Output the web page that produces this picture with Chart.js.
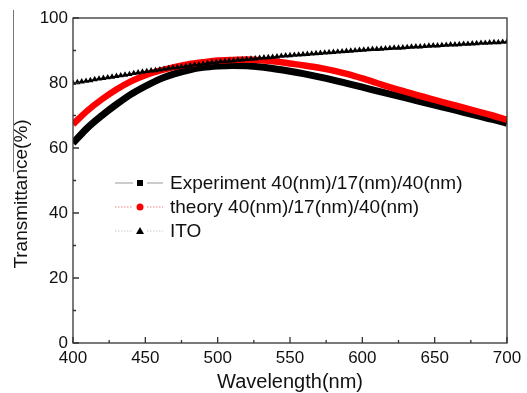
<!DOCTYPE html>
<html>
<head>
<meta charset="utf-8">
<script src="https://cdn.jsdelivr.net/npm/chart.js@4.4.0/dist/chart.umd.min.js"></script>
<style>
  html, body { margin: 0; padding: 0; background: #fff; }
  #wrap { width: 527px; height: 393px; }
</style>
</head>
<body>
<div id="wrap"><canvas id="grafico"></canvas></div>
<script>
// wavelength grid of the measured / computed curves (nm)
var lambda10 = [400, 410, 420, 430, 440, 450, 460, 470, 480, 490, 500, 510, 520, 530, 540, 550,
                560, 570, 580, 590, 600, 610, 620, 630, 640, 650, 660, 670, 680, 690, 700];

var experiment = [61.5, 66.2, 70.0, 73.4, 76.5, 79.0, 81.2, 82.8, 84.0, 84.8, 85.2, 85.4, 85.3, 84.9, 84.3, 83.6,
                  82.8, 81.9, 80.9, 79.8, 78.7, 77.6, 76.5, 75.4, 74.3, 73.2, 72.1, 71.0, 69.9, 68.8, 67.6];

var theory = [67.3, 71.5, 75.0, 78.0, 80.5, 82.4, 83.8, 84.9, 85.8, 86.4, 86.9, 87.1, 87.2, 87.0, 86.6, 86.0,
              85.4, 84.7, 83.8, 82.7, 81.4, 80.0, 78.6, 77.3, 76.0, 74.8, 73.6, 72.4, 71.2, 70.0, 68.7];

// ITO is sampled every 3 nm, starting at 400 nm
var itoStart = 400, itoStep = 3;
var ito = [80.0, 80.2, 80.4, 80.6, 80.8, 81.1, 81.3, 81.5, 81.7, 81.9,
           82.1, 82.3, 82.5, 82.7, 83.0, 83.2, 83.4, 83.6, 83.8, 83.9,
           84.1, 84.3, 84.5, 84.7, 84.8, 85.0, 85.2, 85.4, 85.6, 85.7,
           85.9, 86.1, 86.3, 86.4, 86.6, 86.7, 86.8, 86.9, 87.1, 87.2,
           87.3, 87.4, 87.5, 87.7, 87.8, 87.9, 88.0, 88.1, 88.3, 88.4,
           88.5, 88.6, 88.7, 88.8, 88.9, 89.0, 89.1, 89.2, 89.3, 89.4,
           89.5, 89.6, 89.7, 89.8, 89.9, 90.0, 90.1, 90.2, 90.3, 90.4,
           90.4, 90.5, 90.6, 90.7, 90.8, 90.8, 90.9, 91.0, 91.1, 91.2,
           91.2, 91.3, 91.4, 91.5, 91.5, 91.6, 91.7, 91.8, 91.8, 91.9,
           92.0, 92.0, 92.1, 92.2, 92.3, 92.3, 92.4, 92.5, 92.5, 92.6, 92.7];

var xTicks = [400, 450, 500, 550, 600, 650, 700];
var xMinor = [425, 475, 525, 575, 625, 675];
var yTicks = [0, 20, 40, 60, 80, 100];
var yMinor = [10, 30, 50, 70, 90];

var labelSerie = ['Experiment 40(nm)/17(nm)/40(nm)', 'theory 40(nm)/17(nm)/40(nm)', 'ITO'];
var titoloX = 'Wavelength(nm)';
var titoloY = 'Transmittance(%)';

function punti(xs, ys) {
    var out = [];
    for (var i = 0; i < ys.length; i++) out.push({x: xs[i], y: ys[i]});
    return out;
}
var itoX = [];
for (var k = 0; k < ito.length; k++) itoX.push(itoStart + k * itoStep);

var font = 'Arial, "Liberation Sans", sans-serif';

var cornice = {
    id: 'cornice',
    afterDraw: function(chart) {
        var ctx = chart.ctx, a = chart.chartArea;
        var sx = chart.scales.x, sy = chart.scales.y;
        ctx.save();
        // stray line at far left of the original figure
        ctx.strokeStyle = '#777';
        ctx.lineWidth = 1;
        ctx.beginPath(); ctx.moveTo(13.5, 10); ctx.lineTo(13.5, 172); ctx.stroke();

        ctx.strokeStyle = '#333';
        ctx.lineWidth = 1.3;
        ctx.strokeRect(a.left, a.top, a.right - a.left, a.bottom - a.top);
        ctx.beginPath();
        xTicks.forEach(function(v) { var p = sx.getPixelForValue(v); ctx.moveTo(p, a.bottom); ctx.lineTo(p, a.bottom - 6); });
        xMinor.forEach(function(v) { var p = sx.getPixelForValue(v); ctx.moveTo(p, a.bottom); ctx.lineTo(p, a.bottom - 3); });
        yTicks.forEach(function(v) { var p = sy.getPixelForValue(v); ctx.moveTo(a.left, p); ctx.lineTo(a.left + 6, p); });
        yMinor.forEach(function(v) { var p = sy.getPixelForValue(v); ctx.moveTo(a.left, p); ctx.lineTo(a.left + 3, p); });
        ctx.stroke();

        // axis titles
        ctx.fillStyle = '#111';
        ctx.textAlign = 'center';
        ctx.textBaseline = 'middle';
        ctx.font = '20px ' + font;
        ctx.fillText(titoloX, (a.left + a.right) / 2, 382);
        ctx.save();
        ctx.translate(22, 194);
        ctx.rotate(-Math.PI / 2);
        ctx.font = '19px ' + font;
        ctx.fillText(titoloY, 0, 0);
        ctx.restore();

        // legend
        var righe = [183, 207, 231];
        var x0 = 115, x1 = 163, xm = 140;
        ctx.font = '19px ' + font;
        ctx.textAlign = 'left';
        righe.forEach(function(y, i) {
            ctx.lineWidth = 1;
            if (i === 0) { ctx.strokeStyle = '#9a9a9a'; ctx.setLineDash([]); }
            if (i === 1) { ctx.strokeStyle = '#f08080'; ctx.setLineDash([1.5, 1.5]); }
            if (i === 2) { ctx.strokeStyle = '#c8c8c8'; ctx.setLineDash([1.5, 1.5]); }
            ctx.beginPath();
            ctx.moveTo(x0, y); ctx.lineTo(xm - 7, y);
            ctx.moveTo(xm + 7, y); ctx.lineTo(x1, y);
            ctx.stroke();
            ctx.setLineDash([]);
            if (i === 0) { ctx.fillStyle = '#000'; ctx.fillRect(xm - 3, y - 3, 6, 6); }
            if (i === 1) { ctx.fillStyle = '#ff0000'; ctx.beginPath(); ctx.arc(xm, y, 3.5, 0, Math.PI * 2); ctx.fill(); }
            if (i === 2) { ctx.fillStyle = '#000'; ctx.beginPath(); ctx.moveTo(xm, y - 4); ctx.lineTo(xm + 4, y + 3); ctx.lineTo(xm - 4, y + 3); ctx.closePath(); ctx.fill(); }
            ctx.fillStyle = '#111';
            ctx.fillText(labelSerie[i], 170, y + 1);
        });
        ctx.restore();
    }
};

var chart = new Chart(document.getElementById('grafico'), {
    type: 'line',
    data: {
        datasets: [{
            label: labelSerie[2],
            data: punti(itoX, ito),
            borderColor: '#000',
            borderWidth: 1,
            backgroundColor: '#000',
            pointStyle: 'triangle',
            pointRadius: 3.6,
            pointBorderWidth: 0,
            order: 0
        }, {
            label: labelSerie[1],
            data: punti(lambda10, theory),
            borderColor: '#ff0000',
            borderWidth: 6.5,
            pointRadius: 0,
            cubicInterpolationMode: 'monotone',
            order: 1
        }, {
            label: labelSerie[0],
            data: punti(lambda10, experiment),
            borderColor: '#000',
            borderWidth: 7,
            pointRadius: 0,
            cubicInterpolationMode: 'monotone',
            order: 2
        }]
    },
    options: {
        responsive: true,
        maintainAspectRatio: false,
        animation: false,
        layout: { padding: { left: 0, right: 20, top: 18, bottom: 0 } },
        plugins: { legend: { display: false }, tooltip: { enabled: false } },
        scales: {
            x: {
                type: 'linear', min: 400, max: 700,
                afterFit: function(s) { s.height = 50; },
                afterBuildTicks: function(s) { s.ticks = xTicks.map(function(v) { return {value: v}; }); },
                grid: { display: false, drawTicks: false },
                border: { display: false },
                ticks: { color: '#111', padding: 5, font: { family: font, size: 17 }, maxRotation: 0 }
            },
            y: {
                min: 0, max: 100,
                afterFit: function(s) { s.width = 73; },
                afterBuildTicks: function(s) { s.ticks = yTicks.map(function(v) { return {value: v}; }); },
                grid: { display: false, drawTicks: false },
                border: { display: false },
                ticks: { color: '#111', padding: 5, font: { family: font, size: 17 } }
            }
        }
    },
    plugins: [cornice]
});
</script>
</body>
</html>
